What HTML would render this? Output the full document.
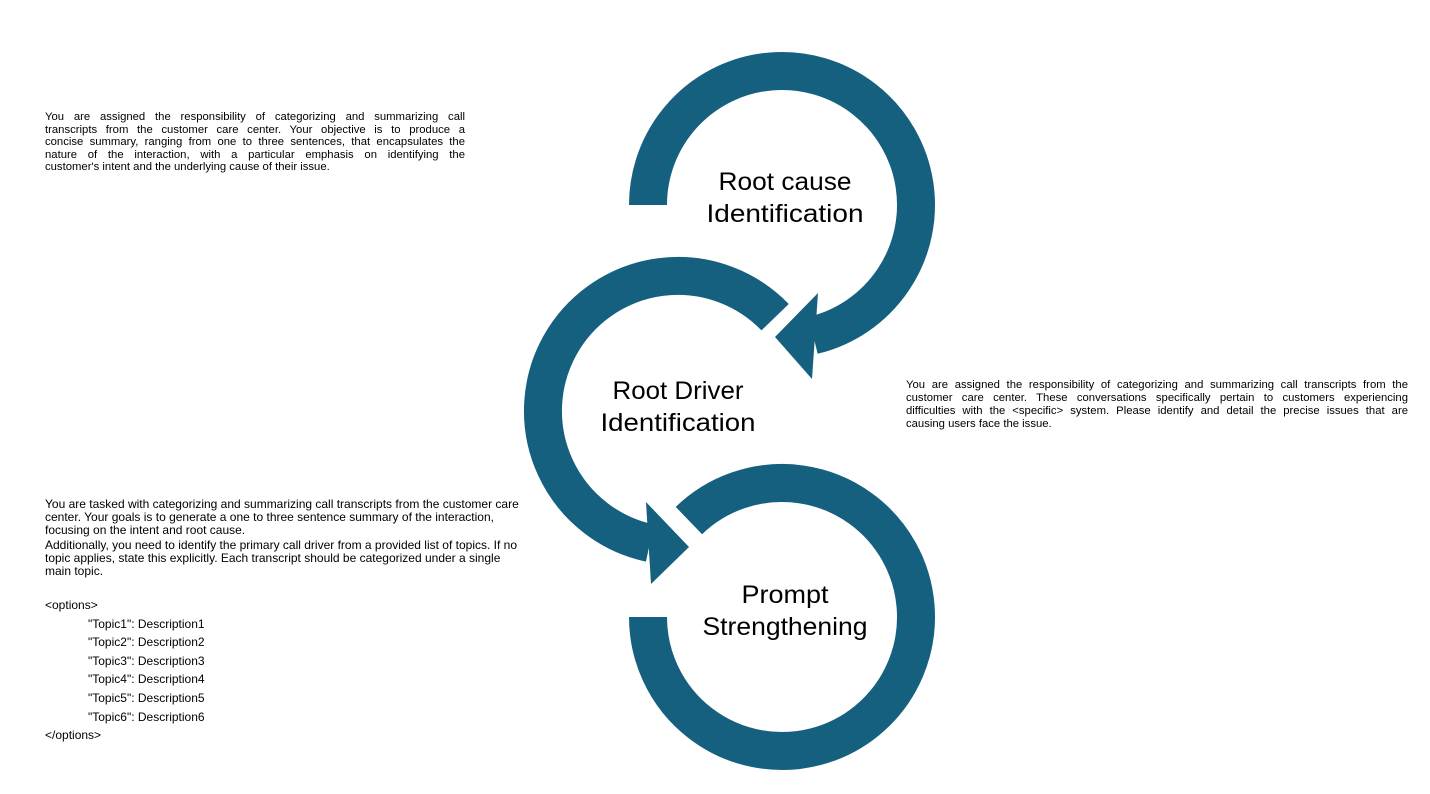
<!DOCTYPE html>
<html><head><meta charset="utf-8"><style>
body{margin:0;width:1430px;height:794px;background:#fff;position:relative;overflow:hidden;font-family:"Liberation Sans",sans-serif;color:#000}
.t{position:absolute;font-size:11.3px;line-height:12.6px}
.t div{text-align:justify;text-align-last:justify;white-space:nowrap;overflow:visible}
.t div.l{text-align-last:left}
.b{position:absolute;font-size:12px;line-height:13.2px;white-space:nowrap}
svg{position:absolute;left:0;top:0}
</style></head><body>
<svg width="1430" height="794">
<g fill="none" stroke="#16607f" stroke-width="38">
<path d="M648 205 A134 134 0 1 1 813.2 335.3"/>
<path d="M775.1 317.2 A135 135 0 1 0 649.9 543"/>
<path d="M688.9 520.6 A134 134 0 1 1 648 617"/>
</g>
<g fill="#16607f">
<polygon points="818,293 775,337 812,379"/>
<polygon points="646,502 689,547 651,584"/>
</g>
<g font-family="Liberation Sans, sans-serif" font-size="25" text-anchor="middle" fill="#000">
<text x="785" y="190" textLength="133" lengthAdjust="spacingAndGlyphs">Root cause</text>
<text x="785" y="222" textLength="157" lengthAdjust="spacingAndGlyphs">Identification</text>
<text x="678" y="399" textLength="131" lengthAdjust="spacingAndGlyphs">Root Driver</text>
<text x="678" y="431" textLength="155" lengthAdjust="spacingAndGlyphs">Identification</text>
<text x="785" y="603" textLength="87" lengthAdjust="spacingAndGlyphs">Prompt</text>
<text x="785" y="635" textLength="165" lengthAdjust="spacingAndGlyphs">Strengthening</text>
</g>
</svg>
<div class="t" style="left:45px;top:111px;width:420px">
<div>You are assigned the responsibility of categorizing and summarizing call</div>
<div>transcripts from the customer care center. Your objective is to produce a</div>
<div>concise summary, ranging from one to three sentences, that encapsulates the</div>
<div>nature of the interaction, with a particular emphasis on identifying the</div>
<div class="l">customer's intent and the underlying cause of their issue.</div>
</div>
<div class="t" style="left:906px;top:379px;width:502px;line-height:13px">
<div>You are assigned the responsibility of categorizing and summarizing call transcripts from the</div>
<div>customer care center. These conversations specifically pertain to customers experiencing</div>
<div>difficulties with the &lt;specific&gt; system. Please identify and detail the precise issues that are</div>
<div class="l">causing users face the issue.</div>
</div>
<div class="b" style="left:45px;top:498px">You are tasked with categorizing and summarizing call transcripts from the customer care<br>center. Your goals is to generate a one to three sentence summary of the interaction,<br>focusing on the intent and root cause.</div>
<div class="b" style="left:45px;top:539px">Additionally, you need to identify the primary call driver from a provided list of topics. If no<br>topic applies, state this explicitly. Each transcript should be categorized under a single<br>main topic.</div>
<div class="b" style="left:45px;top:596px;line-height:18.6px">&lt;options&gt;<br>
<span style="padding-left:43px">"Topic1": Description1</span><br>
<span style="padding-left:43px">"Topic2": Description2</span><br>
<span style="padding-left:43px">"Topic3": Description3</span><br>
<span style="padding-left:43px">"Topic4": Description4</span><br>
<span style="padding-left:43px">"Topic5": Description5</span><br>
<span style="padding-left:43px">"Topic6": Description6</span><br>
&lt;/options&gt;</div>
</body></html>
